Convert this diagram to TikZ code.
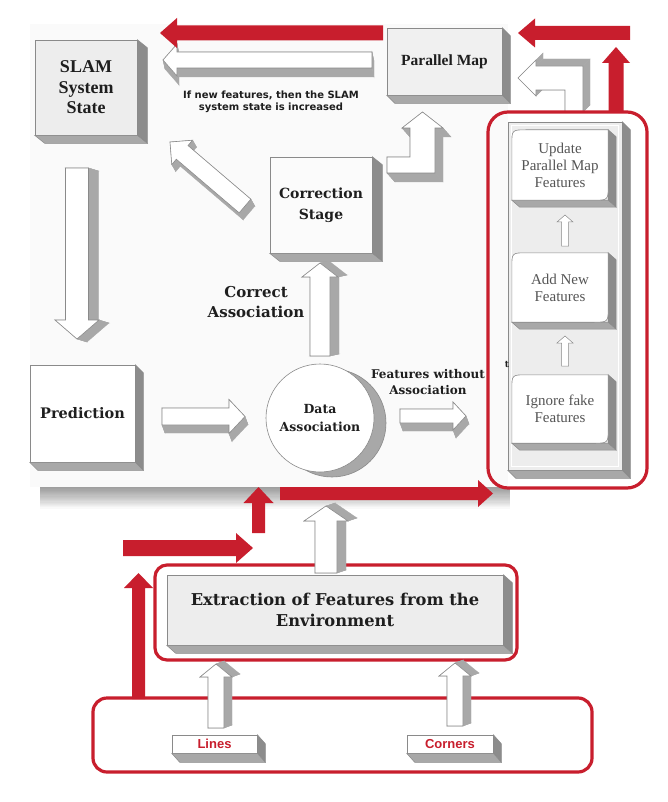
\documentclass[tikz,border=0pt]{standalone}
\usepackage{fontspec}
\setmainfont{Liberation Serif}
\newfontfamily\dvs{DejaVu Serif}
\newfontfamily\lsans{Liberation Sans}
\newfontfamily\dsans{DejaVu Sans}
\usetikzlibrary{calc,shadows}
\definecolor{redA}{HTML}{C81E2D}
\definecolor{sideA}{HTML}{A8A8A8}
\definecolor{sideB}{HTML}{8C8C8C}
\definecolor{frontA}{HTML}{E9E9E9}
\definecolor{edgeA}{HTML}{8A8A8A}
\definecolor{txtA}{HTML}{1E1E1E}
\definecolor{panelc}{HTML}{FAFAFA}
\definecolor{softtxt}{HTML}{555555}

% 3D extrusion of a rectangular node (right and bottom faces)
\newcommand\boxext[3]{%
  \filldraw[fill=sideB,draw=edgeA,line width=0.5pt] (#1.north east) -- ($(#1.north east)+(#2,#3)$) -- ($(#1.south east)+(#2,#3)$) -- (#1.south east) -- cycle;
  \filldraw[fill=sideA,draw=edgeA,line width=0.5pt] (#1.south west) -- (#1.south east) -- ($(#1.south east)+(#2,#3)$) -- ($(#1.south west)+(#2,#3)$) -- cycle;
}
% block arrow outline points
\newcommand\mkarrow[6]{%
  \coordinate (#1-S) at ($(#3)!#6!(#2)$);
  \coordinate (#1-1) at ($(#2)!#4!90:(#3)$);
  \coordinate (#1-2) at ($(#1-S)!#4!90:(#3)$);
  \coordinate (#1-3) at ($(#1-S)!#5!90:(#3)$);
  \coordinate (#1-4) at (#3);
  \coordinate (#1-5) at ($(#1-S)!#5!-90:(#3)$);
  \coordinate (#1-6) at ($(#1-S)!#4!-90:(#3)$);
  \coordinate (#1-7) at ($(#2)!#4!-90:(#3)$);
}
% extruded polygon from named points prefix-1..prefix-n
\newcommand\prism[4]{%
  \foreach \i in {1,...,#2}{%
    \pgfmathtruncatemacro\j{mod(\i,#2)+1}%
    \filldraw[side] (#1-\i) -- (#1-\j) -- ([shift={(#3,#4)}]#1-\j) -- ([shift={(#3,#4)}]#1-\i) -- cycle;
  }%
  \filldraw[wfront] (#1-1) \foreach \i in {2,...,#2}{ -- (#1-\i)} -- cycle;
}
\newcommand\flatarrow[2]{%
  \fill[#2] (#1-1) -- (#1-2) -- (#1-3) -- (#1-4) -- (#1-5) -- (#1-6) -- (#1-7) -- cycle;}
% rounded white inner box
\newcommand\softbox[1]{%
  \filldraw[fill=sideB,draw=edgeA,line width=0.5pt] (#1.north east) -- ($(#1.north east)+(8,7)$) -- ($(#1.south east)+(8,7)$) -- (#1.south east) -- cycle;
  \filldraw[fill=sideA,draw=edgeA,line width=0.5pt] (#1.south west) -- (#1.south east) -- ($(#1.south east)+(8,7)$) -- ($(#1.south west)+(8,7)$) -- cycle;
  \filldraw[fill=white,draw=edgeA,line width=0.6pt] (#1.south west) -- ($(#1.north west)+(0,15)$) .. controls (#1.north west) .. ($(#1.north west)+(15,0)$) -- (#1.north east) -- ($(#1.south east)+(0,-15)$) .. controls (#1.south east) .. ($(#1.south east)+(-15,0)$) -- cycle;
}

\begin{document}
\begin{tikzpicture}[x=1pt,y=-1pt,
  box3d/.style={draw=edgeA,line width=0.6pt,fill=frontA,inner sep=0pt,align=center,text=txtA},
  side/.style={fill=sideA,draw=sideA,line width=0.3pt},
  wfront/.style={fill=white,draw=edgeA,line width=0.6pt},
  redbox/.style={draw=redA,line width=3.2pt,rounded corners=20pt,inner sep=0pt},
  redfill/.style={fill=redA},
  lbl/.style={align=center,text=txtA,inner sep=0pt}]

\useasboundingbox (0,0) rectangle (667,802);
\fill[white] (0,0) rectangle (667,802);

% ---------- main panel with soft bottom shadow ----------
\foreach \i in {1,...,18}{\fill[black,opacity=0.022] (40,487) rectangle (510,{487+1.2*\i});}
\fill[panelc] (30,24) rectangle (508,487);

% ---------- right group: L arrow to parallel map (behind red frame) ----------
\coordinate (L2-1) at (518,78);
\coordinate (L2-2) at (536,60);
\coordinate (L2-3) at (536,66);
\coordinate (L2-4) at (583,66);
\coordinate (L2-5) at (583,112);
\coordinate (L2-6) at (565,112);
\coordinate (L2-7) at (565,90);
\coordinate (L2-8) at (536,90);
\coordinate (L2-9) at (536,96);
\prism{L2}{9}{7}{-7}

% red frames
\node[redbox,minimum width=159pt,minimum height=376pt] (grpR) at (567.5,300) {};
\node[redbox,rounded corners=12pt,minimum width=362pt,minimum height=95pt] (grpE) at (336,612.5) {};
\node[redbox,rounded corners=14pt,minimum width=499pt,minimum height=74pt] (grpL) at (342.5,735) {};

% ---------- boxes ----------
\node[box3d,fill=gray!14,minimum width=102pt,minimum height=95pt,font=\bfseries\fontsize{18}{20.5}\selectfont] (slam) at (86,87.5) {SLAM\\System\\State};
\boxext{slam}{10}{8}

\node[box3d,fill=gray!12,minimum width=115pt,minimum height=67pt,font=\bfseries\fontsize{15.5}{18}\selectfont] (pmap) at (444.5,61.5) {Parallel Map};
\boxext{pmap}{8}{8}

\node[box3d,fill=gray!3,minimum width=102pt,minimum height=96pt,font=\dvs\bfseries\fontsize{14}{21}\selectfont] (corr) at (321,205) {Correction\\Stage};
\boxext{corr}{10}{8}

\node[box3d,fill=white,minimum width=105pt,minimum height=97pt,font=\dvs\bfseries\fontsize{14.5}{18}\selectfont] (pred) at (82.5,413.5) {Prediction};
\boxext{pred}{8}{8}

\node[circle,draw=edgeA,line width=0.6pt,fill=white,minimum size=108pt,inner sep=0pt,align=center,text=txtA,
  font=\dvs\bfseries\fontsize{12.5}{18}\selectfont,
  general shadow={shadow xshift=12pt,shadow yshift=-5pt,fill=sideA,draw=edgeA}] (data) at (320,418) {Data\\Association};

% inner panel of right group
\node[box3d,fill=gray!14,minimum width=114pt,minimum height=348pt] (inpanel) at (565,296) {};
\boxext{inpanel}{8}{8}
\draw[white,line width=1.2pt] ($(inpanel.north west)+(4,4)$) rectangle ($(inpanel.south east)+(-4,-4)$);

\node[inner sep=0pt,minimum width=96pt,minimum height=70pt] (upd) at (560,165) {};
\softbox{upd}
\node[lbl,text=softtxt,font=\fontsize{15}{17}\selectfont] (updt) at (upd.center) {Update\\Parallel Map\\Features};
\node[inner sep=0pt,minimum width=96pt,minimum height=69pt] (addn) at (560,287.5) {};
\softbox{addn}
\node[lbl,text=softtxt,font=\fontsize{15}{17}\selectfont] (addnt) at (addn.center) {Add New\\Features};
\node[inner sep=0pt,minimum width=96pt,minimum height=68pt] (ign) at (560,409) {};
\softbox{ign}
\node[lbl,text=softtxt,font=\fontsize{15}{17}\selectfont] (ignt) at (ign.center) {Ignore fake\\Features};

% extraction
\node[box3d,fill=gray!14,minimum width=336pt,minimum height=70pt,font=\dvs\bfseries\fontsize{16.3}{20.5}\selectfont] (extr) at (335,610) {Extraction of Features from the\\Environment};
\boxext{extr}{9}{8}

\node[box3d,fill=white,minimum width=85pt,minimum height=18pt,text=redA,font=\lsans\bfseries\fontsize{13}{13}\selectfont] (lines) at (214.5,744) {Lines};
\boxext{lines}{8}{9}
\node[box3d,fill=white,minimum width=86pt,minimum height=18pt,text=redA,font=\lsans\bfseries\fontsize{13}{13}\selectfont] (corners) at (450,744) {Corners};
\boxext{corners}{8}{9}

% ---------- white 3D arrows ----------
\coordinate (w1a) at (372,60);   \coordinate (w1b) at (163,60);
\mkarrow{W1}{w1a}{w1b}{8pt}{16pt}{14pt} \prism{W1}{7}{2}{9}

\coordinate (dga) at (245,206);  \coordinate (dgb) at (170,142);
\mkarrow{DG}{dga}{dgb}{9pt}{16pt}{16pt} \prism{DG}{7}{4}{7}

\coordinate (sda) at (77,168);   \coordinate (sdb) at (77,339);
\mkarrow{SD}{sda}{sdb}{11.5pt}{22pt}{19pt} \prism{SD}{7}{10}{3}

\coordinate (pda) at (162,416.5); \coordinate (pdb) at (245,416.5);
\mkarrow{PD}{pda}{pdb}{8.5pt}{17pt}{16pt} \prism{PD}{7}{3}{8}

\coordinate (dca) at (320,356);  \coordinate (dcb) at (320,263);
\mkarrow{DC}{dca}{dcb}{10pt}{18pt}{14pt} \prism{DC}{7}{9}{-2}

\coordinate (dra) at (400,416);  \coordinate (drb) at (466,416);
\mkarrow{DR}{dra}{drb}{7pt}{14pt}{13pt} \prism{DR}{7}{3}{8}

\coordinate (L1-1) at (387,157);
\coordinate (L1-2) at (410,157);
\coordinate (L1-3) at (410,128);
\coordinate (L1-4) at (402,128);
\coordinate (L1-5) at (422.5,112);
\coordinate (L1-6) at (443,128);
\coordinate (L1-7) at (435,128);
\coordinate (L1-8) at (435,173);
\coordinate (L1-9) at (387,173);
\prism{L1}{9}{8}{9}

\coordinate (eda) at (326,573);  \coordinate (edb) at (326,506);
\mkarrow{ED}{eda}{edb}{11pt}{22pt}{15pt} \prism{ED}{7}{9}{-3}

\coordinate (lea) at (216,728);  \coordinate (leb) at (216,664);
\mkarrow{LE}{lea}{leb}{8pt}{16pt}{13pt} \prism{LE}{7}{8}{-3}

\coordinate (cea) at (455,726);  \coordinate (ceb) at (455,663);
\mkarrow{CE}{cea}{ceb}{8pt}{16pt}{13pt} \prism{CE}{7}{8}{-3}

% small arrows in right panel
\coordinate (s1a) at (565,246);  \coordinate (s1b) at (565,215);
\mkarrow{S1}{s1a}{s1b}{3.5pt}{8pt}{7pt}
\filldraw[wfront,line width=0.5pt] (S1-1) -- (S1-2) -- (S1-3) -- (S1-4) -- (S1-5) -- (S1-6) -- (S1-7) -- cycle;
\coordinate (s2a) at (565,366);  \coordinate (s2b) at (565,336);
\mkarrow{S2}{s2a}{s2b}{3.5pt}{8pt}{7pt}
\filldraw[wfront,line width=0.5pt] (S2-1) -- (S2-2) -- (S2-3) -- (S2-4) -- (S2-5) -- (S2-6) -- (S2-7) -- cycle;

% ---------- red arrows ----------
\coordinate (r1a) at (383,33);   \coordinate (r1b) at (160,33);
\mkarrow{R1}{r1a}{r1b}{7.5pt}{15pt}{17pt} \flatarrow{R1}{redfill}
\coordinate (r2a) at (630,33);   \coordinate (r2b) at (518,33);
\mkarrow{R2}{r2a}{r2b}{7pt}{14.5pt}{17pt} \flatarrow{R2}{redfill}
\coordinate (r3a) at (616,113);  \coordinate (r3b) at (616,47);
\mkarrow{R3}{r3a}{r3b}{7.5pt}{14pt}{16pt} \flatarrow{R3}{redfill}
\coordinate (r4a) at (280,493.5); \coordinate (r4b) at (493,493.5);
\mkarrow{R4}{r4a}{r4b}{6.5pt}{13.5pt}{15pt} \flatarrow{R4}{redfill}
\coordinate (r5a) at (258.5,533); \coordinate (r5b) at (258.5,487);
\mkarrow{R5}{r5a}{r5b}{6.5pt}{15pt}{16pt} \flatarrow{R5}{redfill}
\coordinate (r6a) at (123,548);  \coordinate (r6b) at (253,548);
\mkarrow{R6}{r6a}{r6b}{8pt}{15pt}{17pt} \flatarrow{R6}{redfill}
\coordinate (r7a) at (138.5,699); \coordinate (r7b) at (138.5,573);
\mkarrow{R7}{r7a}{r7b}{6.5pt}{14.5pt}{15pt} \flatarrow{R7}{redfill}

% ---------- labels ----------
\node[lbl,font=\dsans\bfseries\fontsize{10}{12.5}\selectfont] (note) at (271,102) {If new features, then the SLAM\\system state is increased};
\node[lbl,font=\dvs\bfseries\fontsize{15}{20}\selectfont] (lblCA) at (256,302) {Correct\\Association};
\node[lbl,font=\dvs\bfseries\fontsize{12}{16}\selectfont] (lblFA) at (428,382) {Features without\\Association};
\node[lbl,font=\dvs\bfseries\fontsize{9}{9}\selectfont] (tfrag) at (507,365) {t};

\end{tikzpicture}
\end{document}
